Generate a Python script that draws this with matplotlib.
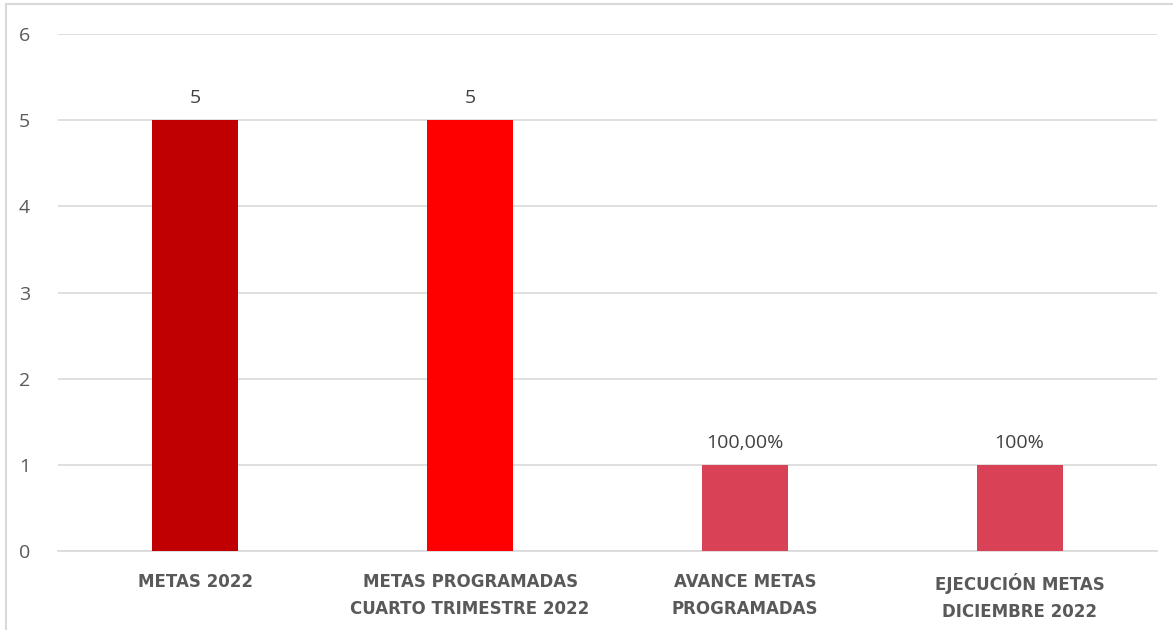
import matplotlib.pyplot as plt
from matplotlib.patches import Rectangle

# data
categories = ["METAS 2022", "METAS PROGRAMADAS\nCUARTO TRIMESTRE 2022",
              "AVANCE METAS\nPROGRAMADAS", "EJECUCIÓN METAS\nDICIEMBRE 2022"]
values = [5, 5, 1, 1]
value_labels = ["5", "5", "100,00%", "100%"]
colors = ["#C00000", "#FF0000", "#D94156", "#D94156"]

fig = plt.figure(figsize=(11.73, 6.30), dpi=100)
ax = fig.add_axes([58/1173, 79/630, 1099/1173, 517/630])

x = range(len(categories))
bars = ax.bar(x, values, width=0.313, color=colors, zorder=3)

for b, lab in zip(bars, value_labels):
    ax.text(b.get_x() + b.get_width()/2, b.get_height() + 0.15, lab,
            ha="center", va="bottom", fontsize=14, color="#404040",
            family=["Open Sans", "DejaVu Sans"])

ax.set_xlim(-0.5, len(categories) - 0.5)
ax.set_ylim(0, 6)
ax.set_yticks(range(0, 7))
ax.yaxis.grid(True, color="#D9D9D9", linewidth=1.2, zorder=0)
for s in ["top", "right", "left"]:
    ax.spines[s].set_visible(False)
ax.spines["bottom"].set_color("#D9D9D9")
ax.spines["bottom"].set_linewidth(1.2)
ax.tick_params(axis="both", length=0)
ax.tick_params(axis="y", pad=20, labelsize=14, labelcolor="#595959")
for t in ax.get_yticklabels():
    t.set_family(["Open Sans", "DejaVu Sans"])

ax.set_xticks(list(x))
ax.set_xticklabels(categories, fontsize=12, fontweight="bold", color="#595959",
                   family=["Liberation Sans Narrow", "DejaVu Sans"], linespacing=1.6)
ax.tick_params(axis="x", pad=16)

# chart border
fig.patches.append(Rectangle((6/1173, -0.01), 1.1, (630-4)/630 + 0.01,
                             transform=fig.transFigure, fill=False,
                             edgecolor="#D9D9D9", linewidth=1.5))

fig.savefig("out.png", dpi=100)
